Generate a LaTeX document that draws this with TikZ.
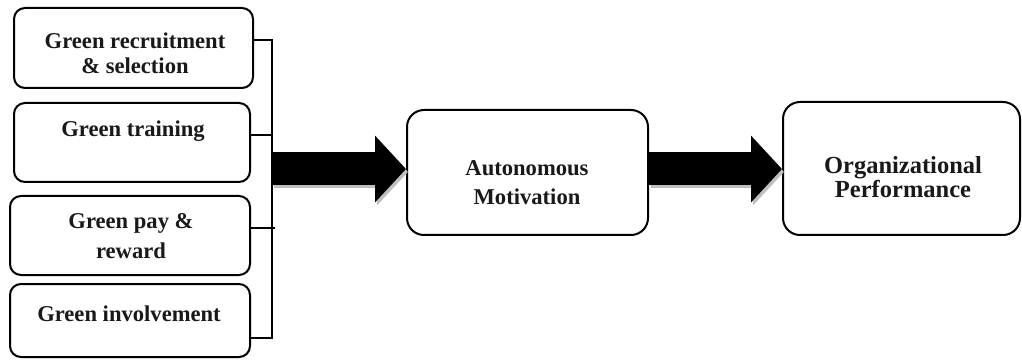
\documentclass[tikz,border=0pt]{standalone}
\usepackage{fontspec}
\setmainfont{Liberation Serif}
\usetikzlibrary{arrows.meta}
\begin{document}
\begin{tikzpicture}[x=1pt,y=-1pt,
  box/.style={draw=black, line width=2pt, rounded corners=11pt, fill=white, inner sep=0pt},
  bigbox/.style={box, rounded corners=17pt},
  lbl/.style={font=\bfseries\fontsize{22.6}{26}\selectfont, align=center, inner sep=0pt, text=black!90},
  bracket/.style={draw=black, line width=1.3pt},
  fat/.style={line width=33pt, black, -{Triangle[width=65pt,length=31pt]}},
  fatshadow/.style={line width=33pt, black!25, -{Triangle[width=65pt,length=31pt]}}
]
\useasboundingbox (0,0) rectangle (1022,363);

% left boxes
\node[box, minimum width=239pt, minimum height=80pt] (b1) at (133.5,48) {};
\node[box, minimum width=236pt, minimum height=79pt] (b2) at (132,142.5) {};
\node[box, minimum width=240pt, minimum height=79pt] (b3) at (130,235.5) {};
\node[box, minimum width=240pt, minimum height=73pt] (b4) at (130,320.5) {};

\node[lbl] (t1) at (135,53) {Green recruitment\\[-1pt]\& selection};
\node[lbl] (t2) at (133,131) {Green training};
\node[lbl, font=\bfseries\fontsize{22.6}{30}\selectfont] (t3) at (131,236) {Green pay \&\\reward};
\node[lbl] (t4) at (129,314) {Green involvement};

% bracket
\coordinate (top) at (272,40);
\coordinate (bot) at (272,338);
\draw[bracket] (b1.east |- top) -- (top) -- (bot) -- (b4.east |- bot);
\draw[bracket] (b2.east |- 0,135) -- (272,135);
\draw[bracket] (b3.east |- 0,228) -- (275,228);

% middle and right boxes
\node[bigbox, minimum width=241pt, minimum height=125pt] (am) at (527.5,172.5) {};
\node[lbl, font=\bfseries\fontsize{22.6}{29}\selectfont] (tam) at (527,183) {Autonomous\\Motivation};
\node[bigbox, minimum width=237pt, minimum height=133pt] (op) at (901.5,168.5) {};
\node[lbl, font=\bfseries\fontsize{24.5}{24}\selectfont] (top2) at (903,177) {Organizational\\Performance};

% fat arrows
\coordinate (a1s) at (272,169);
\draw[fatshadow] ([shift={(2,3)}]a1s) -- ([shift={(2,3)}]am.west |- a1s);
\draw[fat] (a1s) -- (am.west |- a1s);
\draw[fatshadow] ([shift={(2,3)}]am.east |- a1s) -- ([shift={(2,3)}]op.west |- a1s);
\draw[fat] (am.east |- a1s) -- (op.west |- a1s);
\end{tikzpicture}
\end{document}
